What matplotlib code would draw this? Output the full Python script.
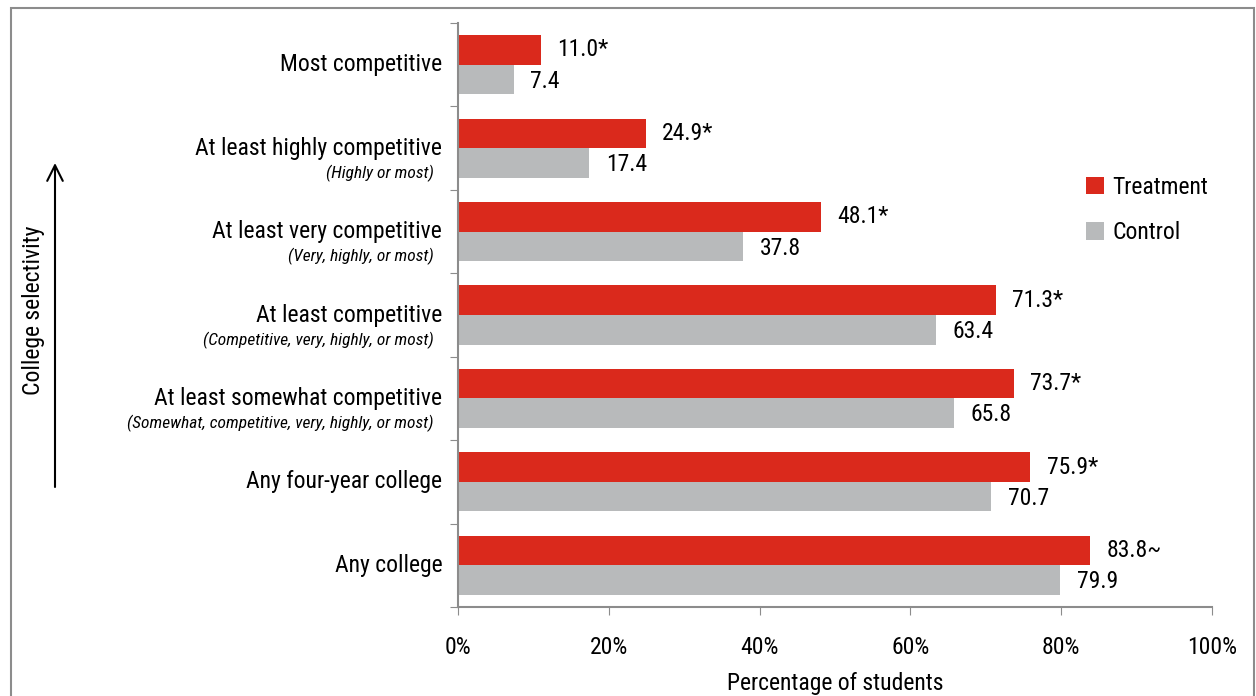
import numpy as np
import matplotlib
matplotlib.use('Agg')
import matplotlib.pyplot as plt
from matplotlib.patches import Rectangle

plt.rcParams['font.family'] = ['Roboto Condensed', 'DejaVu Sans']

# categories from top to bottom
categories = ['Most competitive',
              'At least highly competitive',
              'At least very competitive',
              'At least competitive',
              'At least somewhat competitive',
              'Any four-year college',
              'Any college']
subtitles = ['',
             '(Highly or most)',
             '(Very, highly, or most)',
             '(Competitive, very, highly, or most)',
             '(Somewhat, competitive, very, highly, or most)',
             '',
             '']
treatment = [11.0, 24.9, 48.1, 71.3, 73.7, 75.9, 83.8]
control = [7.4, 17.4, 37.8, 63.4, 65.8, 70.7, 79.9]
treat_marks = ['*', '*', '*', '*', '*', '*', '~']

red = '#DA291C'
grey = '#B8BABB'
axis_col = '#8C8C8C'
fs = 17

fig = plt.figure(figsize=(12.56, 6.96), dpi=100)
ax = fig.add_axes([458 / 1256, 1 - 607 / 696, (1212 - 458) / 1256, (607 - 23) / 696])

n = len(categories)
y = np.arange(n)
h = 0.355
ax.barh(y - h / 2, treatment, height=h, color=red, label='Treatment')
ax.barh(y + h / 2, control, height=h, color=grey, label='Control')

for i in range(n):
    ax.text(treatment[i] + 2.2, y[i] - h / 2, f'{treatment[i]:.1f}{treat_marks[i]}',
            va='center', ha='left', fontsize=fs)
    ax.text(control[i] + 2.2, y[i] + h / 2 + 0.02, f'{control[i]:.1f}',
            va='center', ha='left', fontsize=fs)

ax.set_ylim(n - 0.5, -0.5)
ax.set_xlim(0, 100)
ax.set_yticks(np.arange(n + 1) - 0.5)
ax.set_yticklabels([])
ax.set_xticks(np.arange(0, 101, 20))
ax.set_xticklabels([f'{v}%' for v in range(0, 101, 20)], fontsize=fs)
ax.tick_params(axis='x', length=6, color=axis_col, pad=15)
ax.tick_params(axis='y', length=6, color=axis_col)

for s in ['top', 'right']:
    ax.spines[s].set_visible(False)
for s in ['left', 'bottom']:
    ax.spines[s].set_color(axis_col)
    ax.spines[s].set_linewidth(1.5)

# category names with italic notes underneath
for i in range(n):
    ax.text(-2.1, y[i], categories[i], ha='right', va='center', fontsize=fs)
    if subtitles[i]:
        ax.text(-3.2, y[i] + 0.3, subtitles[i], ha='right', va='center',
                fontsize=12.5, style='italic')

ax.set_xlabel('Percentage of students', fontsize=fs, labelpad=9)

# vertical axis title with arrow
fig.text(34 / 1256, 1 - 310 / 696, 'College selectivity', rotation=90,
         ha='center', va='center', fontsize=fs)
ax.annotate('', xy=(55 / 1256, 1 - 163 / 696), xytext=(55 / 1256, 1 - 487 / 696),
            xycoords='figure fraction',
            arrowprops=dict(arrowstyle='->', color='black', lw=1.5,
                            mutation_scale=28, shrinkA=0, shrinkB=0))

ax.legend(loc='center left', bbox_to_anchor=(0.805, 0.68), frameon=False,
          fontsize=fs, handlelength=0.75, handleheight=0.75, handletextpad=0.35,
          labelspacing=0.95)

# outer frame
fig.add_artist(Rectangle((11 / 1256, -0.05), (1254 - 11) / 1256, 1.05 - 8 / 696,
                         transform=fig.transFigure, fill=False,
                         edgecolor='#8C8C8C', lw=1.5))

fig.savefig('out.png', dpi=100)
